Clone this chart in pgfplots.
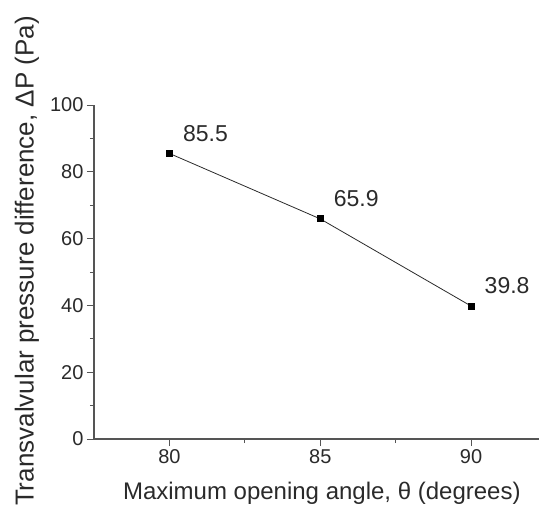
\documentclass[border=0pt]{standalone}
\usepackage{fontspec}
\setmainfont{Liberation Sans}
\usepackage{pgfplots}
\pgfplotsset{compat=1.18}
\definecolor{axgray}{HTML}{555555}
\definecolor{txt}{HTML}{2A2A2A}

\begin{document}
\begin{tikzpicture}
\useasboundingbox (-94pt,-76pt) rectangle (445pt,439pt);
\begin{axis}[
  at={(0,0)}, anchor=south west,
  scale only axis,
  width=445pt, height=334pt,
  xmin=77.5, xmax=92.25,
  ymin=0, ymax=100,
  axis x line=bottom, axis y line=left,
  axis line style={axgray, line width=1.3pt, -},
  xtick={80,85,90}, ytick={0,20,...,100},
  minor xtick={82.5,87.5}, minor ytick={10,30,...,90},
  tick align=outside,
  major tick length=7pt, minor tick length=4pt,
  tick style={axgray, line width=1pt},
  /pgf/number format/assume math mode=true,
  ticklabel style={font=\fontsize{20}{22}\selectfont, text=txt},
  xlabel={Maximum opening angle, θ (degrees)},
  ylabel={Transvalvular pressure difference, ΔP (Pa)},
  xlabel style={font=\fontsize{24}{26}\selectfont, text=txt,
    at={(axis description cs:0.512,-0.162)}, anchor=center},
  ylabel style={font=\fontsize{26}{28}\selectfont, text=txt,
    at={(axis description cs:-0.151,0.533)}, anchor=center},
  clip=false,
]
\addplot[color=txt, line width=0.8pt, mark=square*, mark size=3pt,
  mark options={fill=black, draw=black},
  nodes near coords,
  point meta=explicit symbolic,
  nodes near coords style={font=\fontsize{23}{25}\selectfont, text=txt,
    anchor=center, xshift=36pt, yshift=20pt}]
  coordinates {
  (80,85.5) [85.5]
  (85,65.9) [65.9]
  (90,39.8) [39.8]
};
\end{axis}
\end{tikzpicture}
\end{document}
